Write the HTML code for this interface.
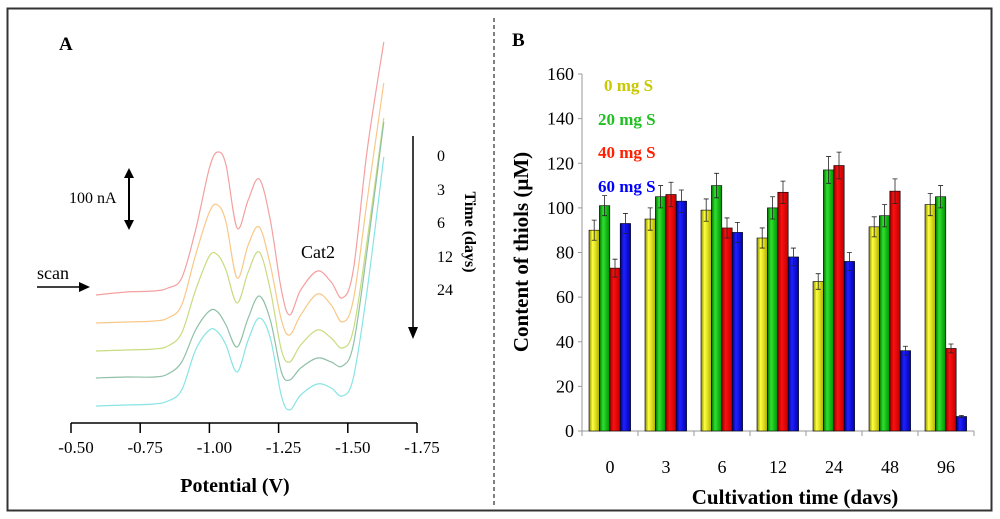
<!DOCTYPE html>
<html><head><meta charset="utf-8"><style>
html,body{margin:0;padding:0;background:#fff}
svg{display:block}
text{font-family:"Liberation Serif",serif}
</style></head><body>
<svg id="fig" width="1000" height="519" viewBox="0 0 1000 519" xmlns="http://www.w3.org/2000/svg">
<defs>
<linearGradient id="gY" x1="0" x2="1"><stop offset="0" stop-color="#8a8a00"/><stop offset="0.35" stop-color="#ffff40"/><stop offset="1" stop-color="#b0b000"/></linearGradient>
<linearGradient id="gG" x1="0" x2="1"><stop offset="0" stop-color="#007000"/><stop offset="0.35" stop-color="#30e030"/><stop offset="1" stop-color="#009000"/></linearGradient>
<linearGradient id="gR" x1="0" x2="1"><stop offset="0" stop-color="#900000"/><stop offset="0.35" stop-color="#ff1010"/><stop offset="1" stop-color="#c00000"/></linearGradient>
<linearGradient id="gB" x1="0" x2="1"><stop offset="0" stop-color="#000080"/><stop offset="0.35" stop-color="#2020ff"/><stop offset="1" stop-color="#0000b0"/></linearGradient>
</defs>
<rect x="7.5" y="8.5" width="984" height="502" fill="none" stroke="#333" stroke-width="2"/>
<line x1="494" y1="18" x2="494" y2="508" stroke="#000" stroke-width="1" stroke-dasharray="4,3"/>
<g id="panelA">
<text x="59" y="50" font-size="19" font-weight="bold">A</text>
<line x1="71" y1="423" x2="417" y2="423" stroke="#000" stroke-width="1.5"/>
<g id="ticksA"></g>
<g id="curvesA"></g>
<text x="235" y="492" font-size="20" font-weight="bold" text-anchor="middle">Potential (V)</text>
<text x="69" y="203" font-size="16">100 nA</text>
<line x1="129" y1="176" x2="129" y2="222" stroke="#000" stroke-width="2"/>
<polygon points="129,168 124,178 134,178" fill="#000"/><polygon points="129,230 124,220 134,220" fill="#000"/>
<text x="37" y="279" font-size="18">scan</text>
<line x1="37" y1="287" x2="82" y2="287" stroke="#000" stroke-width="1.5"/>
<polygon points="90,287 79,282 79,292" fill="#000"/>
<text x="301" y="258" font-size="18">Cat2</text>
<line x1="413" y1="136" x2="413" y2="328" stroke="#000" stroke-width="1.5"/>
<polygon points="413,339 408,327 418,327" fill="#000"/>
<g font-size="16">
<text x="437" y="161">0</text><text x="437" y="195">3</text><text x="437" y="228">6</text><text x="437" y="262">12</text><text x="437" y="295">24</text></g>
<text transform="translate(465,232) rotate(90)" font-size="16" font-weight="bold" text-anchor="middle">Time (days)</text>
</g>
<g id="panelB">
<text x="512" y="46" font-size="19" font-weight="bold">B</text>
<line x1="582" y1="74" x2="582" y2="431" stroke="#999" stroke-width="1"/>
<line x1="582" y1="431" x2="974" y2="431" stroke="#999" stroke-width="1"/>
<g id="ticksB"></g>
<g id="barsB"></g>
<text transform="translate(528,252) rotate(-90)" font-size="21" font-weight="bold" text-anchor="middle">Content of thiols (μM)</text>
<text x="795" y="504" font-size="21" font-weight="bold" text-anchor="middle">Cultivation time (davs)</text>
<g font-size="17" font-weight="bold">
<text x="604" y="91" fill="#c8c800">0 mg S</text>
<text x="598" y="125" fill="#20c020">20 mg S</text>
<text x="598" y="158" fill="#ff2000">40 mg S</text>
<text x="598" y="192" fill="#0000ff">60 mg S</text>
</g>
</g>
</svg>
<script>
// ---------- Panel A data ----------
const potentials = [-0.59,-0.70,-0.80,-0.85,-0.90,-0.95,-1.00,-1.03,-1.06,-1.10,-1.14,-1.18,-1.22,-1.26,-1.29,-1.33,-1.39,-1.44,-1.48,-1.52,-1.57,-1.63];
const curve0 = [128,131,132,135,145,193,255,271,258,195,223,244,203,133,108,133,152,141,125,153,273,381];
const curve3 = [100,101,102,105,118,168,211,218,201,145,178,196,158,103,88,108,129,118,101,123,223,340];
const curve6 = [72,73,74,77,90,133,167,168,153,120,151,171,133,73,61,78,93,85,75,93,183,305];
const curve12 = [45,46,46,49,61,93,112,111,98,76,105,127,103,51,43,55,65,61,57,78,173,301];
const curve24 = [17,18,19,22,33,73,93,91,78,51,83,105,85,27,13,28,39,35,27,45,133,266];
const potTicks = [-0.50,-0.75,-1.00,-1.25,-1.50,-1.75];
const curveColors = ['#f4a0a0','#f8c888','#c8dc80','#90c0a8','#88e4e4'];
const NS='http://www.w3.org/2000/svg';
function xA(v){return 71+(-0.5-v)/0.25*69.2;}
function yA(c){return 423-c;}
const ta=document.getElementById('ticksA');
potTicks.forEach(t=>{
  const l=document.createElementNS(NS,'line');
  l.setAttribute('x1',xA(t));l.setAttribute('x2',xA(t));l.setAttribute('y1',423);l.setAttribute('y2',433);
  l.setAttribute('stroke','#000');l.setAttribute('stroke-width','1.5');
  
  
  ta.appendChild(l);
  const tx=document.createElementNS(NS,'text');
  tx.setAttribute('x',xA(t)+5);tx.setAttribute('y',453);tx.setAttribute('font-size','17');tx.setAttribute('text-anchor','middle');
  tx.textContent=t.toFixed(2);
  
  
  ta.appendChild(tx);
});
function smoothPath(pts){
  let d='M'+pts[0][0].toFixed(1)+','+pts[0][1].toFixed(1);
  for(let i=0;i<pts.length-1;i++){
    const p0=pts[i-1]||pts[i],p1=pts[i],p2=pts[i+1],p3=pts[i+2]||p2;
    const c1=[p1[0]+(p2[0]-p0[0])/6,p1[1]+(p2[1]-p0[1])/6];
    const c2=[p2[0]-(p3[0]-p1[0])/6,p2[1]-(p3[1]-p1[1])/6];
    d+=' C'+c1.map(v=>v.toFixed(1)).join(',')+' '+c2.map(v=>v.toFixed(1)).join(',')+' '+p2[0].toFixed(1)+','+p2[1].toFixed(1);
  }
  return d;
}
const ca=document.getElementById('curvesA');
const curveNames=['curve-day-0','curve-day-3','curve-day-6','curve-day-12','curve-day-24'];
[curve0,curve3,curve6,curve12,curve24].forEach((c,i)=>{
  const p=document.createElementNS(NS,'path');
  p.setAttribute('d',smoothPath(potentials.map((v,j)=>[xA(v),yA(c[j])])));
  p.setAttribute('fill','none');p.setAttribute('stroke',curveColors[i]);p.setAttribute('stroke-width','1.2');
  
  
  ca.appendChild(p);
});
// ---------- Panel B data ----------
const days = ['0','3','6','12','24','48','96'];
const s0 = [90,95,99,86.5,67,91.5,101.5];
const s20 = [101,105,110,100,117,96.5,105];
const s40 = [73,106,91,107,119,107.5,37];
const s60 = [93,103,89,78,76,36,6.5];
const e0 = [4.5,5,5,4.5,3.5,4.5,5];
const e20 = [4.5,5,5.5,5,6,5,5];
const e40 = [4,5.5,4.5,5,6,5.5,2];
const e60 = [4.5,5,4.5,4,4,2,0.5];
const yTicks = [0,20,40,60,80,100,120,140,160];
function yB(v){return 431-v/160*357;}
const gw=56, bw=10.4;
function xB(i){return 582+i*gw;}
const tb=document.getElementById('ticksB');
yTicks.forEach(t=>{
  const l=document.createElementNS(NS,'line');
  l.setAttribute('x1',578);l.setAttribute('x2',582);l.setAttribute('y1',yB(t));l.setAttribute('y2',yB(t));l.setAttribute('stroke','#999');
  
  
  tb.appendChild(l);
  const tx=document.createElementNS(NS,'text');
  tx.setAttribute('x',574);tx.setAttribute('y',yB(t)+6);tx.setAttribute('font-size','18');tx.setAttribute('text-anchor','end');
  tx.textContent=t;
  
  
  tb.appendChild(tx);
});
for(let i=0;i<=days.length;i++){
  const l=document.createElementNS(NS,'line');
  l.setAttribute('x1',xB(i));l.setAttribute('x2',xB(i));l.setAttribute('y1',431);l.setAttribute('y2',436);l.setAttribute('stroke','#999');
  
  
  tb.appendChild(l);
}
days.forEach((d,i)=>{
  const tx=document.createElementNS(NS,'text');
  tx.setAttribute('x',xB(i)+gw/2);tx.setAttribute('y',473);tx.setAttribute('font-size','18');tx.setAttribute('text-anchor','middle');
  tx.textContent=d;
  
  
  tb.appendChild(tx);
});
const bb=document.getElementById('barsB');
const series=[[s0,e0,'url(#gY)','bar-0mg'],[s20,e20,'url(#gG)','bar-20mg'],[s40,e40,'url(#gR)','bar-40mg'],[s60,e60,'url(#gB)','bar-60mg']];
series.forEach((s,k)=>{
  s[0].forEach((v,i)=>{
    const x=xB(i)+7+k*bw;
    const r=document.createElementNS(NS,'rect');
    r.setAttribute('x',x);r.setAttribute('y',yB(v));r.setAttribute('width',bw);r.setAttribute('height',431-yB(v));
    r.setAttribute('fill',s[2]);r.setAttribute('stroke','#000');r.setAttribute('stroke-width','0.6');
    
    
    bb.appendChild(r);
    const e=s[1][i], cx=x+bw/2;
    const p=document.createElementNS(NS,'path');
    p.setAttribute('d','M'+cx+','+yB(v+e)+' V'+yB(v-e)+' M'+(cx-2.5)+','+yB(v+e)+' H'+(cx+2.5)+' M'+(cx-2.5)+','+yB(v-e)+' H'+(cx+2.5));
    p.setAttribute('stroke','#222');p.setAttribute('stroke-width','0.8');p.setAttribute('fill','none');
    
    
    bb.appendChild(p);
  });
});
</script>
</body></html>
